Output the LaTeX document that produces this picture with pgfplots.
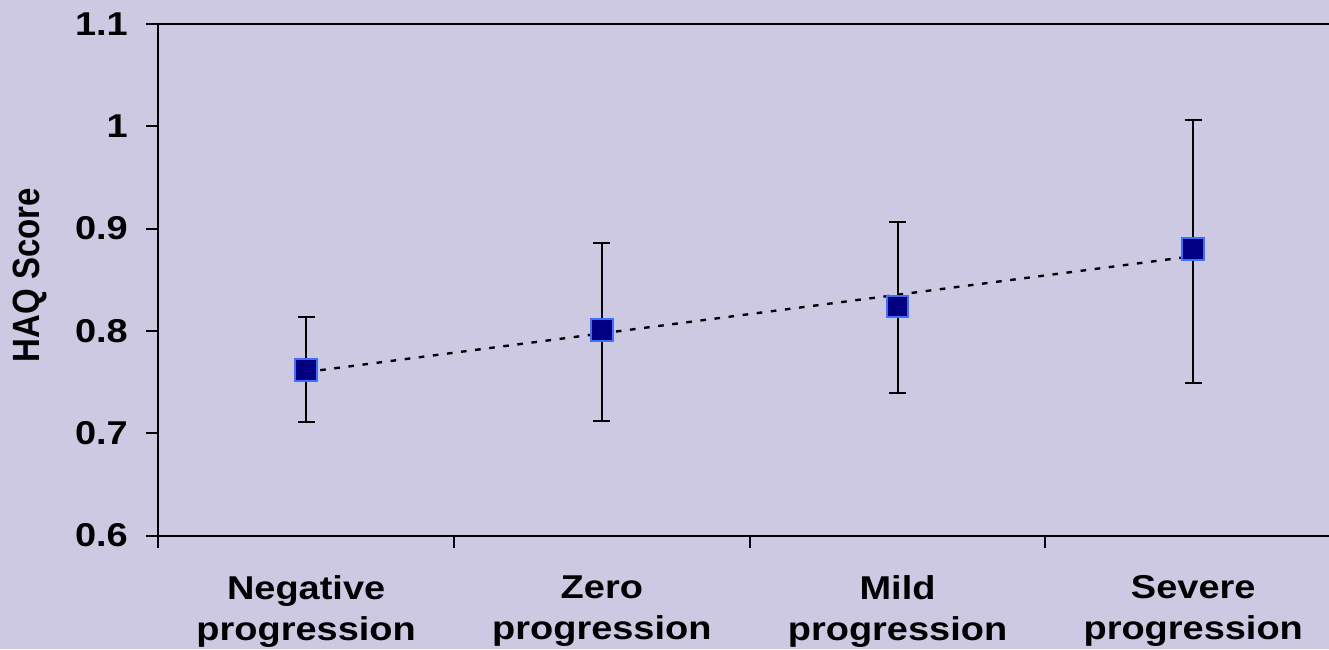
\documentclass[border=0pt]{standalone}
\usepackage{fontspec}
\setmainfont{Liberation Sans}
\usepackage{pgfplots}
\pgfplotsset{compat=1.18}
\definecolor{bg}{RGB}{206,201,226}
\definecolor{navy}{RGB}{0,0,128}
\definecolor{mborder}{RGB}{60,110,255}
\pgfplotstableread{
x y ep em
0 0.7615 0.0524 0.0510
1 0.8009 0.0850 0.0893
2 0.8237 0.0830 0.0847
3 0.8798 0.1267 0.1307
}\haqdata
\begin{document}
\begin{tikzpicture}
\path[use as bounding box] (-79.15pt,-56.75pt) rectangle (585.35pt,267.75pt);
\fill[bg] (-79.15pt,-56.75pt) rectangle (585.35pt,267.75pt);
\begin{axis}[
  anchor=south west, at={(0pt,0pt)},
  scale only axis, width=591.4pt, height=255.75pt,
  xmin=-0.5, xmax=3.5, ymin=0.6, ymax=1.1,
  ytick={0.6,0.7,0.8,0.9,1,1.1},
  yticklabels={0.6,0.7,0.8,0.9,1,1.1},
  xtick={0,1,2,3},
  xticklabels={{Negative\\progression},{Zero\\progression},{Mild\\progression},{Severe\\progression}},
  minor xtick={-0.5,0.5,1.5,2.5,3.5},
  major x tick style={draw=none},
  tick align=outside, xtick pos=bottom, ytick pos=left,
  major tick length=6pt, minor tick length=6pt,
  axis line style={line width=1pt, black},
  every tick/.style={line width=1pt, black},
  /pgf/number format/assume math mode=true,
  tick label style={font=\bfseries\fontsize{16.5}{20.5}\selectfont, xscale=1.15},
  xticklabel style={align=center, yshift=-10.5pt},
  yticklabel style={xshift=-4.5pt},
  ylabel={HAQ Score},
  ylabel style={font=\bfseries\fontsize{16.5}{20.5}\selectfont, at={(axis description cs:-0.1085,0.5088)}, anchor=center, yscale=1.15},
  clip=false,
]
\addplot[only marks, mark=square*, mark size=5.4pt,
  mark options={fill=navy, draw=mborder, line width=1pt},
  error bars/.cd, y dir=both, y explicit,
  error bar style={line width=1pt, black},
  error mark options={rotate=90, mark size=4.25pt, line width=1pt, black}]
  table[x=x, y=y, y error plus=ep, y error minus=em] {\haqdata};
\addplot[black, line width=1.2pt, dash pattern=on 2.8pt off 4.3pt] coordinates {(0,0.7598) (3,0.8731)};
\end{axis}
\end{tikzpicture}
\end{document}
